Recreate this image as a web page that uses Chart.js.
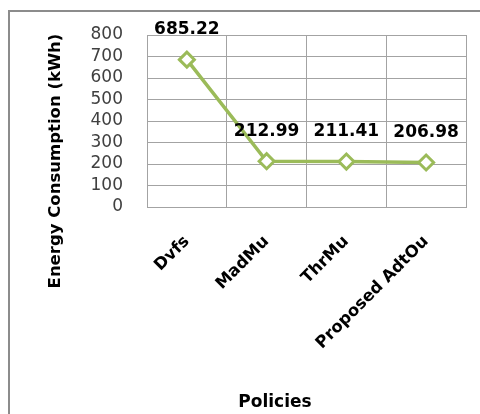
<!DOCTYPE html>
<html>
<head>
<meta charset="utf-8">
<script src="https://cdn.jsdelivr.net/npm/chart.js@4.4.1/dist/chart.umd.min.js"></script>
<style>
  html, body { margin: 0; padding: 0; background: #fff; }
  #wrap { width: 480px; height: 414px; position: relative; }
</style>
</head>
<body>
<div id="wrap"><canvas id="chart"></canvas></div>
<script>
// Energy used by each scheduling policy
const policies = ['Dvfs', 'MadMu', 'ThrMu', 'Proposed AdtOu'];
const energyKWh = [685.22, 212.99, 211.41, 206.98];
const yTicks = [0, 100, 200, 300, 400, 500, 600, 700, 800];

const FONT = 'DejaVu Sans';
const GREEN = '#9bbb59';
const GRID = '#a3a3a3';

// Frame, axis titles and value labels drawn straight on the canvas
const extras = {
  id: 'extras',
  beforeDraw(chart) {
    const ctx = chart.ctx;
    ctx.save();
    ctx.strokeStyle = '#8c8c8c';
    ctx.lineWidth = 2;
    ctx.strokeRect(9, 11, 600, 600);
    ctx.restore();
  },
  afterDraw(chart) {
    const ctx = chart.ctx;
    ctx.save();
    ctx.fillStyle = '#000';
    ctx.font = 'bold 17px "' + FONT + '"';
    ctx.textAlign = 'center';
    ctx.textBaseline = 'middle';

    // value above each point
    const meta = chart.getDatasetMeta(0);
    meta.data.forEach((pt, i) => {
      ctx.fillText(energyKWh[i].toFixed(2), pt.x, pt.y - 30);
    });

    // x axis title
    ctx.fillText('Policies', 275, 403);

    // y axis title
    ctx.translate(56, 161);
    ctx.rotate(-Math.PI / 2);
    ctx.font = 'bold 16.5px "' + FONT + '"';
    ctx.fillText('Energy Consumption (kWh)', 0, 0);
    ctx.restore();
  }
};

new Chart(document.getElementById('chart'), {
  type: 'line',
  data: {
    labels: policies,
    datasets: [{
      data: energyKWh,
      borderColor: GREEN,
      borderWidth: 3.5,
      pointStyle: 'rectRot',
      pointRadius: 7.5,
      pointBorderWidth: 3,
      pointBorderColor: GREEN,
      pointBackgroundColor: '#fff',
      tension: 0
    }]
  },
  options: {
    responsive: true,
    maintainAspectRatio: false,
    animation: false,
    layout: { padding: { top: 35, right: 14, left: 0, bottom: 0 } },
    plugins: {
      legend: { display: false },
      tooltip: { enabled: false }
    },
    scales: {
      x: {
        offset: true,
        grid: { offset: true, color: GRID, drawTicks: false },
        border: { color: GRID },
        ticks: {
          color: '#000',
          font: { family: FONT, size: 16.5, weight: 'bold' },
          minRotation: 45,
          maxRotation: 45,
          autoSkip: false,
          padding: 25
        },
        afterFit(scale) { scale.height = 207; }
      },
      y: {
        min: 0,
        max: 800,
        afterBuildTicks(scale) { scale.ticks = yTicks.map(v => ({ value: v })); },
        grid: { color: GRID, drawTicks: false },
        border: { color: GRID },
        ticks: {
          color: '#404040',
          font: { family: FONT, size: 17 },
          autoSkip: false,
          padding: 24
        },
        afterFit(scale) { scale.width = 147; }
      }
    }
  },
  plugins: [extras]
});
</script>
</body>
</html>
